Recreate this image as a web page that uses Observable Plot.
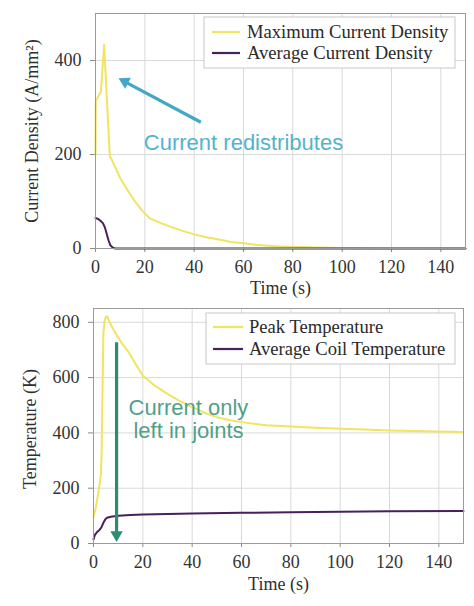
<!DOCTYPE html>
<html><head><meta charset="utf-8">
<script src="https://cdn.jsdelivr.net/npm/d3@7"></script>
<script src="https://cdn.jsdelivr.net/npm/@observablehq/plot@0.6"></script>
<style>
body{margin:0;background:#fff;}
#root{width:474px;}
svg{display:block;}
</style></head><body><div id="root"></div>
<script>
// ---- data ----
const xTicks = [0, 20, 40, 60, 80, 100, 120, 140];
const yTicksTop = [0, 200, 400];
const yTicksBottom = [0, 200, 400, 600, 800];

const maxJTime = [0, 0.1, 2.2, 3.5, 5.8, 6.5, 8, 10, 13, 16, 19, 22, 26, 30, 35, 40, 45, 50, 55, 60, 65, 70, 75, 80, 90, 100, 110, 120, 135, 150];
const maxJValue = [200, 313, 334, 433, 196, 190, 173, 150, 124, 100, 80, 64, 55, 47, 38, 30, 24, 19, 14, 11, 8, 6, 4.5, 3.5, 2, 1, 0.5, 0.2, 0, 0];

const avgJTime = [0, 1, 2, 3, 3.8, 4.5, 5.3, 6, 7, 8, 150];
const avgJValue = [65, 63, 59, 54, 45, 32, 17, 7, 2, 0, 0];

const peakTTime = [0, 1, 2.3, 3, 3.3, 3.6, 4.0, 4.5, 5.0, 5.5, 6, 7, 8, 10, 12, 14, 17, 20, 25, 30, 35, 40, 45, 50, 55, 60, 70, 80, 90, 100, 110, 120, 130, 140, 150];
const peakTValue = [95, 132, 204, 250, 330, 517, 758, 805, 820, 822, 812, 792, 775, 745, 718, 695, 650, 607, 570, 541, 515, 493, 473, 457, 447, 439, 428, 423, 419, 415, 412, 409, 407, 405, 403];

const avgTTime = [0, 0.5, 1.5, 2.5, 3.2, 4, 4.8, 5.5, 7, 10, 15, 20, 30, 40, 60, 80, 100, 120, 150];
const avgTValue = [15, 30, 42, 50, 58, 75, 88, 93, 97, 100, 103, 105, 107, 108.5, 111, 113, 115, 116.5, 118];

const topSeries = ["Maximum Current Density", "Average Current Density"];
const bottomSeries = ["Peak Temperature", "Average Coil Temperature"];
const colors = ["#f1e45e", "#46215c"];

// annotations (data coordinates)
const noteTop = {text: "Current redistributes", x: 19.6, y: 226, color: "#55b2cd"};
const arrowTop = {x1: 42.7, y1: 268.6, x2: 12.2, y2: 354, hx: 11.9, hy: 355, rotate: -62, color: "#43a7c6"};
const noteBottom = {text: "Current only\nleft in joints", x: 38.5, y: 451, color: "#51a088"};
const arrowBottom = {x1: 9.35, y1: 728, x2: 9.35, y2: 34, hx: 9.35, hy: 31, rotate: 180, color: "#2f8c70"};

const zip = (t, v) => t.map((d, i) => ({t: d, v: v[i]}));

function legend(svg, labels, box) {
  const g = d3.select(svg).append("g");
  g.append("rect").attr("x", box.x).attr("y", box.y).attr("width", box.w).attr("height", box.h)
    .attr("fill", "white").attr("stroke", "#c8c8c8").attr("stroke-width", 1);
  labels.forEach((lab, i) => {
    const y = box.rows[i];
    g.append("line").attr("x1", box.lx1).attr("x2", box.lx2).attr("y1", y).attr("y2", y)
      .attr("stroke", colors[i]).attr("stroke-width", 2.2);
    g.append("text").attr("x", box.tx).attr("y", y).attr("dy", "0.34em")
      .attr("text-anchor", "start")
      .attr("fill", "#2a2a2a").attr("font-family", "Liberation Serif").attr("font-size", 18.6)
      .text(lab);
  });
}

function chart(opts) {
  const {height, margins, yDomain, yTicks, series, yLabel, yLabelDy, note, arrow, xLabelDy} = opts;
  const svg = Plot.plot({
    width: 474, height,
    marginLeft: margins[0], marginRight: margins[1], marginTop: margins[2], marginBottom: margins[3],
    style: {fontFamily: "Liberation Serif", fontSize: "18px", color: "#2f2f2f", background: "white"},
    x: {domain: [0, 150]},
    y: {domain: yDomain},
    marks: [
      Plot.gridX({ticks: xTicks, stroke: "#d9d9d9", strokeOpacity: 1}),
      Plot.gridY({ticks: yTicks, stroke: "#d9d9d9", strokeOpacity: 1}),
      Plot.axisX({ticks: xTicks, tickSize: 4, tickPadding: 8, label: null, stroke: "#8a8a8a", fill: "#333"}),
      Plot.axisY({ticks: yTicks, tickSize: 5, tickPadding: 9, label: null, stroke: "#8a8a8a", fill: "#333"}),
      Plot.text(["Time (s)"], {frameAnchor: "bottom", dy: xLabelDy, fill: "#2f2f2f", fontSize: 18}),
      Plot.text([yLabel], {frameAnchor: "left", textAnchor: "middle", dx: -63, dy: yLabelDy, rotate: -90, fill: "#2f2f2f", fontSize: 18}),
      Plot.line(series[0], {x: "t", y: "v", stroke: colors[0], strokeWidth: 2}),
      Plot.line(series[1], {x: "t", y: "v", stroke: colors[1], strokeWidth: 2}),
      Plot.link([arrow], {x1: "x1", y1: "y1", x2: "x2", y2: "y2", stroke: arrow.color, strokeWidth: 3.2}),
      Plot.dot([arrow], {x: "hx", y: "hy", symbol: "triangle", r: 4.6, fill: arrow.color, stroke: "none", rotate: arrow.rotate}),
      Plot.text([note], {x: "x", y: "y", text: "text", fill: note.color, fontFamily: "Liberation Sans", fontSize: 22,
        textAnchor: note.anchor || "middle", lineHeight: 1.06}),
      Plot.frame({stroke: "#9a9a9a"})
    ]
  });
  return svg;
}

const root = document.getElementById("root");

const topChart = chart({
  height: 300, margins: [95, 9, 13, 52], yDomain: [0, 500], yTicks: yTicksTop,
  series: [zip(maxJTime, maxJValue), zip(avgJTime, avgJValue)],
  yLabel: "Current Density (A/mm²)", yLabelDy: 0,
  note: {...noteTop, anchor: "start"}, arrow: arrowTop, xLabelDy: 45
});
legend(topChart, topSeries, {x: 204, y: 17, w: 251, h: 51, rows: [32, 53], lx1: 212, lx2: 240, tx: 247});
root.appendChild(topChart);

const bottomChart = chart({
  height: 306, margins: [93, 11, 8, 63], yDomain: [0, 850], yTicks: yTicksBottom,
  series: [zip(peakTTime, peakTValue), zip(avgTTime, avgTValue)],
  yLabel: "Temperature (K)", yLabelDy: 3,
  note: noteBottom, arrow: arrowBottom, xLabelDy: 46
});
legend(bottomChart, bottomSeries, {x: 206, y: 13, w: 249, h: 51, rows: [27, 49], lx1: 213, lx2: 243, tx: 249});
root.appendChild(bottomChart);
</script>
</body></html>
